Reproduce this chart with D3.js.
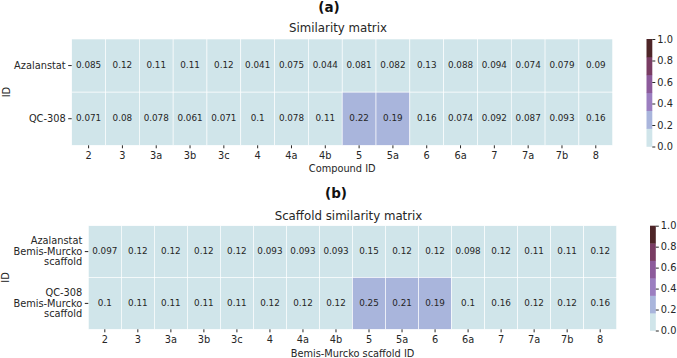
<!DOCTYPE html>
<html lang="en">
<head>
  <meta charset="UTF-8">
  <title>Similarity matrices</title>
  <script src="https://d3js.org/d3.v7.min.js"></script>
  <style>
    body { margin: 0; background: #fff; }
    svg, svg text { font-family: "DejaVu Sans", sans-serif; }
    .tick text { fill: #262626; }
    .tick line { stroke: #262626; }
  </style>
</head>
<body>
  <div class="canvas"></div>
  <script>
    // data
    const compounds = ['2', '3', '3a', '3b', '3c', '4', '4a', '4b', '5', '5a', '6', '6a', '7', '7a', '7b', '8'];
    const rowsA = ['Azalanstat', 'QC-308'];
    const rowsB = ['Azalanstat\nBemis-Murcko\nscaffold', 'QC-308\nBemis-Murcko\nscaffold'];
    const simAzalanstat = [0.085, 0.12, 0.11, 0.11, 0.12, 0.041, 0.075, 0.044, 0.081, 0.082, 0.13, 0.088, 0.094, 0.074, 0.079, 0.09];
    const simQC308 = [0.071, 0.08, 0.078, 0.061, 0.071, 0.1, 0.078, 0.11, 0.22, 0.19, 0.16, 0.074, 0.092, 0.087, 0.093, 0.16];
    const scafAzalanstat = [0.097, 0.12, 0.12, 0.12, 0.12, 0.093, 0.093, 0.093, 0.15, 0.12, 0.12, 0.098, 0.12, 0.11, 0.11, 0.12];
    const scafQC308 = [0.1, 0.11, 0.11, 0.11, 0.11, 0.12, 0.12, 0.12, 0.25, 0.21, 0.19, 0.1, 0.16, 0.12, 0.12, 0.16];
    const cbarTicks = [0, 0.2, 0.4, 0.6, 0.8, 1.0];
    const palette = ['#d0e5ea', '#a9b5dc', '#9b7ec0', '#8c5a9b', '#793c63', '#4e2528'];

    const width = 677;
    const height = 358;

    const svg = d3.select('.canvas')
                  .append('svg')
                  .attr('width', width)
                  .attr('height', height);

    const color = d3.scaleQuantize().domain([0, 1]).range(palette);

    // one heatmap panel
    function panel(opt) {
      const x = d3.scaleBand()
                  .domain(compounds)
                  .range([opt.left, opt.right]);
      const y = d3.scaleBand()
                  .domain(opt.rows)
                  .range([opt.top, opt.bottom]);

      const cells = [];
      opt.values.forEach((vals, i) => {
        vals.forEach((v, j) => cells.push({ row: opt.rows[i], col: compounds[j], v }));
      });

      const g = svg.append('g');

      g.selectAll('rect.cell')
        .data(cells)
        .enter()
        .append('rect')
        .attr('class', 'cell')
        .attr('x', d => x(d.col))
        .attr('y', d => y(d.row))
        .attr('width', x.bandwidth())
        .attr('height', y.bandwidth())
        .style('fill', d => color(d.v))
        .style('stroke', '#fff')
        .style('stroke-width', 0.6);

      g.selectAll('text.annot')
        .data(cells)
        .enter()
        .append('text')
        .attr('class', 'annot')
        .attr('x', d => x(d.col) + x.bandwidth() / 2)
        .attr('y', d => y(d.row) + y.bandwidth() / 2)
        .attr('dy', '0.3em')
        .attr('text-anchor', 'middle')
        .style('font-size', '8.8px')
        .style('fill', '#262626')
        .text(d => String(d.v));

      // x axis
      const xAxisG = g.append('g')
                      .attr('transform', `translate(0, ${opt.bottom})`)
                      .call(d3.axisBottom(x).tickSize(3).tickPadding(4));
      xAxisG.select('.domain').remove();
      xAxisG.selectAll('text').style('font-size', '9.8px');

      // y axis
      const yAxisG = g.append('g')
                      .attr('transform', `translate(${opt.left}, 0)`)
                      .call(d3.axisLeft(y).tickSize(3.5).tickPadding(2.5));
      yAxisG.select('.domain').remove();
      yAxisG.selectAll('.tick text')
        .style('font-size', '9.8px')
        .text(null)
        .each(function (d) {
          const lines = d.split('\n');
          const t = d3.select(this);
          lines.forEach((ln, k) => {
            t.append('tspan')
              .attr('x', -6)
              .attr('dy', k === 0 ? ((-(lines.length - 1) / 2) * 1.07 + 0.32) + 'em' : '1.07em')
              .text(ln);
          });
        });

      // labels
      g.append('text')
        .attr('x', (opt.left + opt.right) / 2)
        .attr('y', opt.xLabelY)
        .attr('text-anchor', 'middle')
        .style('font-size', '9.8px')
        .style('fill', '#262626')
        .text(opt.xLabel);

      g.append('text')
        .attr('transform', `translate(${opt.idX}, ${(opt.top + opt.bottom) / 2}) rotate(-90)`)
        .attr('text-anchor', 'middle')
        .attr('dy', '0.36em')
        .style('font-size', '9.8px')
        .style('fill', '#262626')
        .text('ID');

      g.append('text')
        .attr('x', opt.titleX)
        .attr('y', opt.titleY)
        .attr('text-anchor', 'middle')
        .style('font-size', '11.8px')
        .style('fill', '#262626')
        .text(opt.title);

      g.append('text')
        .attr('x', opt.tagX)
        .attr('y', opt.tagY)
        .attr('text-anchor', 'middle')
        .style('font-size', '13.5px')
        .style('font-weight', 'bold')
        .style('fill', '#111')
        .text(opt.tag);

      // colorbar
      const cy = d3.scaleLinear().domain([0, 1]).range([opt.cbBottom, opt.top]);
      const step = 1 / palette.length;
      g.selectAll('rect.cb')
        .data(palette)
        .enter()
        .append('rect')
        .attr('class', 'cb')
        .attr('x', opt.cbX)
        .attr('y', (c, i) => cy((i + 1) * step))
        .attr('width', 5.8)
        .attr('height', (c, i) => cy(i * step) - cy((i + 1) * step) + 0.3)
        .style('fill', c => c);

      const cbAxisG = g.append('g')
                       .attr('transform', `translate(${opt.cbX + 5.8}, 0)`)
                       .call(d3.axisRight(cy).tickValues(cbarTicks).tickFormat(d3.format('.1f')).tickSize(3).tickPadding(2));
      cbAxisG.select('.domain').remove();
      cbAxisG.selectAll('text').style('font-size', '9.8px');
    }

    panel({
      rows: rowsA,
      values: [simAzalanstat, simQC308],
      left: 71.7, right: 612.7, top: 39, bottom: 145.3,
      xLabel: 'Compound ID', xLabelY: 172,
      idX: 6,
      title: 'Similarity matrix', titleX: 338, titleY: 31.5,
      tag: '(a)', tagX: 329, tagY: 11.5,
      cbX: 646.5, cbBottom: 146.5
    });

    panel({
      rows: rowsB,
      values: [scafAzalanstat, scafQC308],
      left: 88.3, right: 616.7, top: 225.7, bottom: 329.3,
      xLabel: 'Bemis-Murcko scaffold ID', xLabelY: 357,
      idX: 5.5,
      title: 'Scaffold similarity matrix', titleX: 348.5, titleY: 219.5,
      tag: '(b)', tagX: 336, tagY: 198,
      cbX: 650, cbBottom: 330.5
    });
  </script>
</body>
</html>
